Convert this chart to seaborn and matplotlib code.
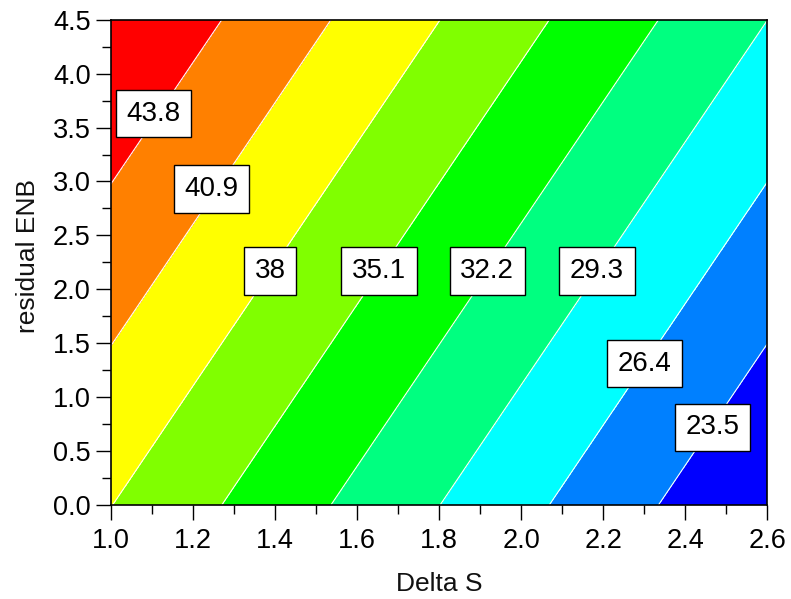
import numpy as np
import matplotlib
matplotlib.use("Agg")
import matplotlib.pyplot as plt
import seaborn as sns
from matplotlib.colors import ListedColormap, BoundaryNorm
from matplotlib.ticker import MultipleLocator, FormatStrFormatter

# grid values
delta_s = [1.0, 1.4, 1.8, 2.2, 2.6]
residual_enb = [0.0, 1.5, 3.0, 4.5]
z_table = [
    [38.05, 33.69, 29.33, 24.97, 20.61],
    [40.95, 36.59, 32.23, 27.87, 23.51],
    [43.85, 39.49, 35.13, 30.77, 26.41],
    [46.75, 42.39, 38.03, 33.67, 29.31],
]
levels = [23.5, 26.4, 29.3, 32.2, 35.1, 38.0, 40.9, 43.8]
level_labels = ["23.5", "26.4", "29.3", "32.2", "35.1", "38", "40.9", "43.8"]
label_x = [2.466, 2.300, 2.185, 1.917, 1.654, 1.388, 1.246, 1.105]
label_y = [0.72, 1.31, 2.17, 2.17, 2.17, 2.17, 2.93, 3.63]
fill_colors = ["#0000ff", "#0080ff", "#00ffff", "#00ff80", "#00ff00",
               "#80ff00", "#ffff00", "#ff8000", "#ff0000"]

sns.set_style("ticks")
plt.rcParams['font.family'] = ['Liberation Sans', 'DejaVu Sans']

fig = plt.figure(figsize=(7.91, 5.99), dpi=100)
ax = fig.add_axes([0.140, 0.157, 0.830, 0.810])

X, Y = np.meshgrid(delta_s, residual_enb)
Z = np.array(z_table)
bounds = [0] + levels + [100]
cmap = ListedColormap(fill_colors)
norm = BoundaryNorm(bounds, cmap.N)
ax.contourf(X, Y, Z, levels=bounds, cmap=cmap, norm=norm)
ax.contour(X, Y, Z, levels=levels, colors="white", linewidths=0.8)

for lx, ly, txt in zip(label_x, label_y, level_labels):
    ax.text(lx, ly, txt, ha="center", va="center", fontsize=20, color="black",
            bbox=dict(boxstyle="square,pad=0.38", facecolor="white",
                      edgecolor="black", linewidth=1.0))

ax.set_xlim(1.0, 2.6)
ax.set_ylim(0.0, 4.5)
ax.xaxis.set_major_locator(MultipleLocator(0.2))
ax.xaxis.set_minor_locator(MultipleLocator(0.1))
ax.yaxis.set_major_locator(MultipleLocator(0.5))
ax.yaxis.set_minor_locator(MultipleLocator(0.25))
ax.xaxis.set_major_formatter(FormatStrFormatter("%.1f"))
ax.yaxis.set_major_formatter(FormatStrFormatter("%.1f"))
ax.tick_params(which="major", direction="out", length=10.5, width=1.0,
               labelsize=19.5, color="black", labelcolor="black")
ax.tick_params(axis="x", which="major", pad=6)
ax.tick_params(axis="y", which="major", pad=4)
ax.tick_params(which="minor", direction="out", length=6.3, width=1.0, color="black")
for s in ax.spines.values():
    s.set_visible(True)
    s.set_color("black")
    s.set_linewidth(1.2)

ax.set_xlabel("Delta S", fontsize=19, color="#111111")
ax.set_ylabel("residual ENB", fontsize=19, color="#111111")
ax.xaxis.set_label_coords(0.50, -0.138)
ax.yaxis.set_label_coords(-0.108, 0.513)

fig.savefig("out.png", dpi=100, facecolor="white")
